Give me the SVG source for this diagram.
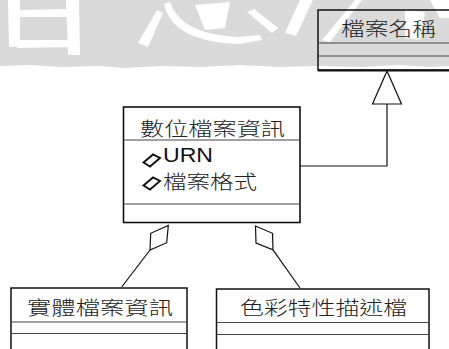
<svg xmlns="http://www.w3.org/2000/svg" width="449" height="349" viewBox="0 0 449 349">
<style>
.box{fill:none;stroke:#111;stroke-width:1.5}
.sep{stroke:#444;stroke-width:1.2;fill:none}
.t{font-family:"Noto Sans CJK TC","Noto Sans CJK SC",sans-serif;font-size:19px;font-weight:300;fill:#222}
.a{font-family:"Liberation Sans",Arial,sans-serif;font-size:19.5px;fill:#111}
.ln{stroke:#111;stroke-width:1.2;fill:none}
.ic{fill:#fff;stroke:#111;stroke-width:1.9}
</style>
<rect x="0" y="0" width="449" height="349" fill="#fff"/>
<g id="watermark">
<path d="M0 0 H449 V66 L430 67 L400 65 L360 67 L320 66 L280 67 L240 65 L200 67 L160 66 L125 68 L100 66 L60 67 L30 65 L0 66 Z" fill="#dadada"/>
<g fill="#fff">
<polygon points="8,0 20,0 20,46 9,47"/>
<polygon points="20,10 67,9 67,17 20,17"/>
<polygon points="17,40 77,40 77,47 17,48"/>
<polygon points="66,0 79,0 80,55 68,55"/>
<polygon points="157,10 163,13 148,47 138,43"/>
<path d="M164 4 Q172 42 240 44 L262 40 L260 35 L238 37 Q180 34 170 2 Z"/>
<polygon points="195,5 230,2 225,28 205,30"/>
<polygon points="247,12 254,9 278,28 272,33"/>
<polygon points="300,0 313,0 296,36 285,33"/>
<polygon points="355,0 362,0 330,42 322,40"/>
<polygon points="405,10 425,12 420,40 405,38"/>
<polygon points="430,0 449,0 449,18 440,18"/>
</g>
</g>
<g id="connectors">
<polyline class="ln" points="300,166 387,166 387,104"/>
<polygon points="387,71 372.5,104 401.5,104" fill="#fff" stroke="#111" stroke-width="1.2"/>
<polygon points="168.3,225.5 166.7,242.7 150,250 150.7,233.3" fill="#fff" stroke="#111" stroke-width="1.2"/>
<line class="ln" x1="150" y1="250" x2="121.7" y2="287"/>
<polygon points="255.5,226 272.5,233.3 273,249.8 256,243" fill="#fff" stroke="#111" stroke-width="1.2"/>
<line class="ln" x1="273" y1="249.8" x2="300" y2="288"/>
</g>
<g id="node-file-name">
<rect class="box" x="318" y="10" width="150" height="60"/>
<line class="sep" x1="318" y1="43" x2="449" y2="43"/>
<line class="sep" x1="318" y1="56" x2="449" y2="56"/>
<line x1="318" y1="70.5" x2="449" y2="70.5" stroke="#111" stroke-width="2"/>
<text class="t" x="341" y="35.5" textLength="95" lengthAdjust="spacingAndGlyphs">檔案名稱</text>
</g>
<g id="node-digital-file-info">
<rect x="123.5" y="107" width="176.5" height="115.5" fill="#fff" stroke="#111" stroke-width="1.6"/>
<line class="sep" x1="123.5" y1="140" x2="300" y2="140"/>
<line class="sep" x1="123.5" y1="204" x2="300" y2="204"/>
<text class="t" x="140" y="136" textLength="145" lengthAdjust="spacingAndGlyphs">數位檔案資訊</text>
<polygon class="ic" points="143.5,162.5 153,154.5 160,158 150,166.5"/>
<text class="a" x="163" y="162" textLength="50" lengthAdjust="spacingAndGlyphs">URN</text>
<polygon class="ic" points="143.5,185.5 153,177.5 160,181 150,189.5"/>
<text class="t" x="163" y="189" textLength="94" lengthAdjust="spacingAndGlyphs">檔案格式</text>
</g>
<g id="node-physical-file-info">
<rect class="box" x="11" y="288" width="176" height="80"/>
<line class="sep" x1="11" y1="322" x2="187" y2="322"/>
<line class="sep" x1="11" y1="333.5" x2="187" y2="333.5"/>
<text class="t" x="27" y="314.5" textLength="146" lengthAdjust="spacingAndGlyphs">實體檔案資訊</text>
</g>
<g id="node-color-profile">
<rect class="box" x="216.5" y="289" width="212.5" height="80"/>
<line class="sep" x1="216.5" y1="322.5" x2="429" y2="322.5"/>
<line class="sep" x1="216.5" y1="334.5" x2="429" y2="334.5"/>
<text class="t" x="240" y="314.5" textLength="167" lengthAdjust="spacingAndGlyphs">色彩特性描述檔</text>
</g>
</svg>
